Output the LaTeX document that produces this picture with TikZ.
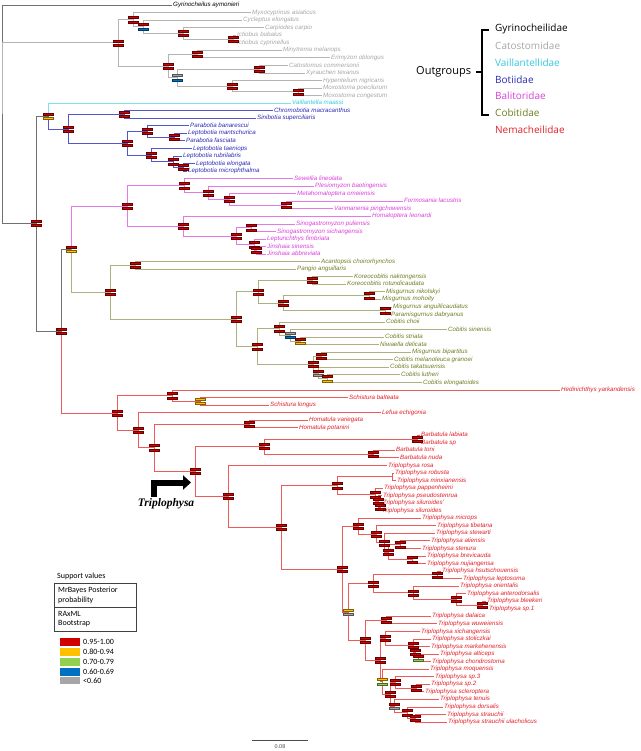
\documentclass[tikz,border=0pt]{standalone}
\usepackage{fontspec}
\setmainfont{Liberation Sans}
\newfontfamily\legfont{Open Sans}
\newfontfamily\calfont{Carlito}
\newfontfamily\serfont{Liberation Serif}
\usetikzlibrary{arrows.meta}

\definecolor{rootl}{HTML}{707070}
\definecolor{catl}{HTML}{B4B4B4}
\definecolor{catt}{HTML}{A6A6A6}
\definecolor{vaill}{HTML}{7FE3EC}
\definecolor{vailt}{HTML}{33C6DF}
\definecolor{botl}{HTML}{5555CC}
\definecolor{bott}{HTML}{2A2AB8}
\definecolor{ball}{HTML}{E57AE5}
\definecolor{balt}{HTML}{D940D9}
\definecolor{cobl}{HTML}{AFAF80}
\definecolor{cobt}{HTML}{6F7D22}
\definecolor{neml}{HTML}{EE5A5A}
\definecolor{nemt}{HTML}{E0202A}
\definecolor{rd}{HTML}{D00000}
\definecolor{yl}{HTML}{FFC000}
\definecolor{gn}{HTML}{92D050}
\definecolor{bl}{HTML}{0070C0}
\definecolor{gy}{HTML}{A6A6A6}

\newcommand{\lfont}{\fontsize{6.2}{7}\selectfont\itshape}
\newcommand{\bars}[3]{%
  \filldraw [fill=#2, draw=#2!50!black, line width=0.35pt] ([shift={(-5pt,3.1pt)}]#1) rectangle ([shift={(5pt,1.1pt)}]#1);
  \filldraw [fill=#3, draw=#3!50!black, line width=0.35pt] ([shift={(-5pt,-1.1pt)}]#1) rectangle ([shift={(5pt,-3.1pt)}]#1);}

\tikzstyle{leaf} = [anchor=west, inner sep=1pt, font=\lfont, text height=4.6pt, text depth=1.3pt]
\tikzstyle{kleaf} = [leaf, text=black]
\tikzstyle{gleaf} = [leaf, text=catt]
\tikzstyle{cleaf} = [leaf, text=vailt]
\tikzstyle{bleaf} = [leaf, text=bott]
\tikzstyle{pleaf} = [leaf, text=balt]
\tikzstyle{oleaf} = [leaf, text=cobt]
\tikzstyle{rleaf} = [leaf, text=nemt]
\tikzstyle{rootline} = [draw=rootl, line width=0.75pt]
\tikzstyle{catline} = [draw=catl, line width=0.75pt]
\tikzstyle{vailline} = [draw=vaill, line width=0.75pt]
\tikzstyle{botline} = [draw=botl, line width=0.75pt]
\tikzstyle{balline} = [draw=ball, line width=0.75pt]
\tikzstyle{cobline} = [draw=cobl, line width=0.75pt]
\tikzstyle{nemline} = [draw=neml, line width=0.75pt]
\tikzstyle{famtext} = [anchor=west, inner sep=0pt, font=\legfont\fontsize{10}{12}\selectfont]
\tikzstyle{caltext} = [anchor=west, inner sep=0pt, font=\calfont\fontsize{8}{9.6}\selectfont]

\begin{document}
\begin{tikzpicture}[x=1pt, y=-1pt]
\useasboundingbox (0,0) rectangle (640,751);

% leaves, outgroups
\node [kleaf] (gyr) at (172, 5) {Gyrinocheilus aymonieri};
\node [gleaf] (myx) at (251, 12.5) {Myxocyprinus asiaticus};
\node [gleaf] (cyc) at (242, 20.1) {Cycleptus elongatus};
\node [gleaf] (car) at (264, 27.6) {Carpiodes carpio};
\node [gleaf] (ibu) at (236, 35.2) {Ictiobus bubalus};
\node [gleaf] (icy) at (236, 42.7) {Ictiobus cyprinellus};
\node [gleaf] (min) at (282, 50.3) {Minytrema melanops};
\node [gleaf] (eri) at (330, 57.8) {Erimyzon oblongus};
\node [gleaf] (cat) at (288, 65.4) {Catostomus commersonii};
\node [gleaf] (xyr) at (305, 72.9) {Xyrauchen texanus};
\node [gleaf] (hyp) at (322, 80.5) {Hypentelium nigricans};
\node [gleaf] (mpo) at (322, 88.0) {Moxostoma poecilurum};
\node [gleaf] (mco) at (322, 95.6) {Moxostoma congestum};
\node [cleaf] (vai) at (291, 103.1) {Vaillantella maassi};
\node [bleaf] (chr) at (273, 110.7) {Chromobotia macracanthus};
\node [bleaf] (sin) at (256, 118.2) {Sinibotia superciliaris};
\node [bleaf] (pban) at (189, 125.8) {Parabotia banarescui};
\node [bleaf] (lman) at (187, 133.3) {Leptobotia mantschurica};
\node [bleaf] (pfas) at (185, 140.8) {Parabotia fasciata};
\node [bleaf] (ltae) at (192, 148.4) {Leptobotia taeniops};
\node [bleaf] (lrub) at (182, 155.9) {Leptobotia rubrilabris};
\node [bleaf] (lelo) at (195, 163.5) {Leptobotia elongata};
\node [bleaf] (lmic) at (187, 171.0) {Leptobotia microphthalma};
\node [pleaf] (sew) at (293, 178.6) {Sewellia lineolata};
\node [pleaf] (ple) at (314, 186.1) {Plesiomyzon baotingensis};
\node [pleaf] (met) at (296, 193.7) {Metahomaloptera omeiensis};
\node [pleaf] (for) at (403, 201.2) {Formosania lacustris};
\node [pleaf] (van) at (333, 208.8) {Vanmanenia pingchowensis};
\node [pleaf] (hom) at (371, 216.3) {Homaloptera leonardi};
\node [pleaf] (spu) at (295, 223.9) {Sinogastromyzon puliensis};
\node [pleaf] (ssi) at (276, 231.4) {Sinogastromyzon sichangensis};
\node [pleaf] (lfi) at (266, 239.0) {Lepturichthys fimbriata};
\node [pleaf] (jsi) at (266, 246.5) {Jinshaia sinensis};
\node [pleaf] (jab) at (266, 254.1) {Jinshaia abbreviata};
\node [oleaf] (aca) at (320, 261.6) {Acantopsis choirorhynchos};
\node [oleaf] (pan) at (296, 269.1) {Pangio anguillaris};
\node [oleaf] (kna) at (353, 276.7) {Koreocobitis naktongensis};
\node [oleaf] (kro) at (346, 284.2) {Koreocobitis rotundicaudata};
\node [oleaf] (mni) at (385, 291.8) {Misgurnus nikolskyi};
\node [oleaf] (mmo) at (381, 299.3) {Misgurnus mohoity};
\node [oleaf] (man) at (392, 306.9) {Misgurnus anguillicaudatus};
\node [oleaf] (pda) at (390, 314.4) {Paramisgurnus dabryanus};
\node [oleaf] (cch) at (385, 322.0) {Cobitis choii};
\node [oleaf] (csi) at (447, 329.5) {Cobitis sinensis};
\node [oleaf] (cst) at (384, 337.1) {Cobitis striata};
\node [oleaf] (nde) at (379, 344.6) {Niwaella delicata};
\node [oleaf] (mbi) at (411, 352.2) {Misgurnus bipartitus};
\node [oleaf] (cme) at (393, 359.7) {Cobitis melanoleuca granoei};
\node [oleaf] (cta) at (389, 367.3) {Cobitis takatsuensis};
\node [oleaf] (clu) at (400, 374.8) {Cobitis lutheri};
\node [oleaf] (cel) at (422, 382.4) {Cobitis elongatoides};

% leaves, Nemacheilidae
\node [rleaf] (hed) at (560, 389.9) {Hedinichthys yarkandensis};
\node [rleaf] (sba) at (348, 397.4) {Schistura balteata};
\node [rleaf] (slo) at (269, 405.0) {Schistura longus};
\node [rleaf] (lef) at (381, 412.5) {Lefua echigonia};
\node [rleaf] (hva) at (308, 420.1) {Homatula variegata};
\node [rleaf] (hpo) at (298, 427.6) {Homatula potanini};
\node [rleaf] (bla) at (420, 435.2) {Barbatula labiata};
\node [rleaf] (bsp) at (420, 442.7) {Barbatula sp};
\node [rleaf] (bto) at (395, 450.3) {Barbatula toni};
\node [rleaf] (bnu) at (399, 457.8) {Barbatula nuda};
\node [rleaf] (tro) at (387, 465.4) {Triplophysa rosa};
\node [rleaf] (trb) at (394, 472.9) {Triplophysa robusta};
\node [rleaf] (tmi) at (396, 480.5) {Triplophysa minxianensis};
\node [rleaf] (tpa) at (383, 488.0) {Triplophysa pappenheimi};
\node [rleaf] (tps) at (382, 495.6) {Triplophysa pseudostenrua};
\node [rleaf] (tsl1) at (382, 503.1) {Triplophysa siluroides'};
\node [rleaf] (tsl2) at (381, 510.6) {Triplophysa siluroides};
\node [rleaf] (tmc) at (421, 518.2) {Triplophysa microps};
\node [rleaf] (ttb) at (436, 525.7) {Triplophysa tibetana};
\node [rleaf] (tst) at (435, 533.3) {Triplophysa stewarti};
\node [rleaf] (tal) at (430, 540.8) {Triplophysa aliensis};
\node [rleaf] (tsn) at (421, 548.4) {Triplophysa stenura};
\node [rleaf] (tbr) at (426, 555.9) {Triplophysa brevicauda};
\node [rleaf] (tnu) at (426, 563.5) {Triplophysa nujiangensa};
\node [rleaf] (ths) at (441, 571.0) {Triplophysa hsutschouensis};
\node [rleaf] (tle) at (462, 578.6) {Triplophysa leptosoma};
\node [rleaf] (tor) at (459, 586.1) {Triplophysa orientalis};
\node [rleaf] (tan) at (466, 593.7) {Triplophysa anterodorsalis};
\node [rleaf] (tbl) at (486, 601.2) {Triplophysa bleekeri};
\node [rleaf] (ts1) at (488, 608.8) {Triplophysa sp.1};
\node [rleaf] (tda) at (431, 616.3) {Triplophysa dalaica};
\node [rleaf] (twu) at (437, 623.8) {Triplophysa wuweiensis};
\node [rleaf] (txi) at (420, 631.4) {Triplophysa xichangensis};
\node [rleaf] (tso) at (431, 638.9) {Triplophysa stoliczkai};
\node [rleaf] (tma) at (430, 646.5) {Triplophysa markehenensis};
\node [rleaf] (tat) at (439, 654.0) {Triplophysa alticeps};
\node [rleaf] (tch) at (431, 661.6) {Triplophysa chondrostoma};
\node [rleaf] (tmo) at (429, 669.1) {Triplophysa moquensis};
\node [rleaf] (ts3) at (434, 676.7) {Triplophysa sp.3};
\node [rleaf] (ts2) at (430, 684.2) {Triplophysa sp.2};
\node [rleaf] (tsc) at (424, 691.8) {Triplophysa scleroptera};
\node [rleaf] (tte) at (439, 699.3) {Triplophysa tenuis};
\node [rleaf] (tdo) at (443, 706.9) {Triplophysa dorsalis};
\node [rleaf] (tsr) at (446, 714.4) {Triplophysa strauchii};
\node [rleaf] (tsu) at (447, 722.0) {Triplophysa strauchii ulacholicus};

% inner nodes
\coordinate (root) at (2, 114);
\coordinate (c0) at (118, 42.8);
\coordinate (c1) at (133, 19.6);
\coordinate (c3) at (143, 26.7);
\coordinate (c4) at (183, 33.3);
\coordinate (c5) at (233, 39);
\coordinate (c2) at (168, 65.9);
\coordinate (c6) at (197, 54);
\coordinate (c7) at (177, 77.7);
\coordinate (c8) at (259, 69.2);
\coordinate (c9) at (232, 86.2);
\coordinate (c10) at (298, 91.8);
\coordinate (n1) at (36, 223.5);
\coordinate (v) at (48, 116);
\coordinate (b0) at (68, 128.9);
\coordinate (b1) at (124, 114.5);
\coordinate (b2) at (127, 143.3);
\coordinate (b3) at (147, 131.5);
\coordinate (b5) at (174, 137.1);
\coordinate (b4) at (151, 155);
\coordinate (b6) at (173, 161.6);
\coordinate (b7) at (183, 167.3);
\coordinate (n2) at (61, 331);
\coordinate (x) at (71, 249.2);
\coordinate (ba0) at (127, 206);
\coordinate (ba1) at (184, 185.7);
\coordinate (ba3) at (208, 192.8);
\coordinate (ba4) at (229, 199.4);
\coordinate (ba5) at (286, 205);
\coordinate (ba2) at (183, 226.3);
\coordinate (ba6) at (236, 236.2);
\coordinate (ba7) at (251, 227.7);
\coordinate (ba8) at (254, 244.7);
\coordinate (ba9) at (256, 250.3);
\coordinate (cobr) at (110, 292.3);
\coordinate (cob1) at (135, 265.4);
\coordinate (cob2) at (236, 319.2);
\coordinate (cob3) at (258, 291.8);
\coordinate (cob5) at (312, 280.5);
\coordinate (cob6) at (283, 303.1);
\coordinate (cob7) at (369, 295.6);
\coordinate (cob8) at (385, 310.7);
\coordinate (cob4) at (257, 346.6);
\coordinate (cob9) at (279, 328.6);
\coordinate (cob11) at (290, 335.2);
\coordinate (cob12) at (300, 340.9);
\coordinate (cob10) at (313, 364.5);
\coordinate (cob13) at (321, 356);
\coordinate (cob14) at (318, 373);
\coordinate (cob15) at (327, 378.6);
\coordinate (na) at (117, 412.9);
\coordinate (nb) at (172, 395.6);
\coordinate (nc) at (200, 401.2);
\coordinate (nd) at (138, 430.1);
\coordinate (ne) at (154, 447.7);
\coordinate (nf) at (249, 423.9);
\coordinate (ng) at (195, 471.5);
\coordinate (nh) at (264, 446.5);
\coordinate (nj) at (417, 439);
\coordinate (nk) at (373, 454.1);
\coordinate (ni) at (228, 496.4);
\coordinate (nm) at (281, 527.4);
\coordinate (tr1) at (337, 485.7);
\coordinate (tr3) at (392, 476.7);
\coordinate (tr4) at (375, 494.6);
\coordinate (tr4b) at (378, 501.2);
\coordinate (tr5) at (380, 506.9);
\coordinate (tr2) at (342, 569.1);
\coordinate (tr6) at (358, 526.3);
\coordinate (tr8) at (376, 534.3);
\coordinate (tr9) at (384, 542.8);
\coordinate (tr10) at (388, 552.2);
\coordinate (tr11) at (400, 544.6);
\coordinate (tr12) at (412, 559.7);
\coordinate (tr7) at (348, 612);
\coordinate (tr13) at (373, 583.8);
\coordinate (tr15) at (437, 574.8);
\coordinate (tr16) at (413, 592.8);
\coordinate (tr17) at (456, 599.4);
\coordinate (tr18) at (482, 605);
\coordinate (tr14) at (365, 640.1);
\coordinate (tr19) at (386, 620.1);
\coordinate (tr20) at (380, 660.1);
\coordinate (tr21) at (385, 638.5);
\coordinate (tr23) at (413, 645.5);
\coordinate (tr24) at (415, 652.2);
\coordinate (tr25) at (418, 657.8);
\coordinate (tr22) at (382, 681.7);
\coordinate (tr26) at (390, 694.2);
\coordinate (tr27) at (395, 682.4);
\coordinate (tr29) at (416, 688);
\coordinate (tr28) at (394, 706);
\coordinate (tr30) at (407, 712.6);
\coordinate (tr31) at (415, 718.2);

% branches
\path [rootline] (root) |- (gyr) (root) |- (n1) (n1) |- (v) (n1) |- (n2) (n2) |- (x);
\path [catline] (root) |- (c0);
\path [catline] (c0) |- (c1) (c0) |- (c2);
\path [catline] (c1) |- (myx) (c1) |- (c3);
\path [catline] (c3) |- (cyc) (c3) |- (c4);
\path [catline] (c4) |- (car) (c4) |- (c5);
\path [catline] (c5) |- (ibu) (c5) |- (icy);
\path [catline] (c2) |- (c6) (c2) |- (c7);
\path [catline] (c6) |- (min) (c6) |- (eri);
\path [catline] (c7) |- (c8) (c7) |- (c9);
\path [catline] (c8) |- (cat) (c8) |- (xyr);
\path [catline] (c9) |- (hyp) (c9) |- (c10);
\path [catline] (c10) |- (mpo) (c10) |- (mco);
\path [vailline] (v) |- (vai);
\path [botline] (v) |- (b0);
\path [botline] (b0) |- (b1) (b0) |- (b2);
\path [botline] (b1) |- (chr) (b1) |- (sin);
\path [botline] (b2) |- (b3) (b2) |- (b4);
\path [botline] (b3) |- (pban) (b3) |- (b5);
\path [botline] (b5) |- (lman) (b5) |- (pfas);
\path [botline] (b4) |- (ltae) (b4) |- (b6);
\path [botline] (b6) |- (lrub) (b6) |- (b7);
\path [botline] (b7) |- (lelo) (b7) |- (lmic);
\path [balline] (x) |- (ba0);
\path [balline] (ba0) |- (ba1) (ba0) |- (ba2);
\path [balline] (ba1) |- (sew) (ba1) |- (ba3);
\path [balline] (ba3) |- (ple) (ba3) |- (ba4);
\path [balline] (ba4) |- (met) (ba4) |- (ba5);
\path [balline] (ba5) |- (for) (ba5) |- (van);
\path [balline] (ba2) |- (hom) (ba2) |- (ba6);
\path [balline] (ba6) |- (ba7) (ba6) |- (ba8);
\path [balline] (ba7) |- (spu) (ba7) |- (ssi);
\path [balline] (ba8) |- (lfi) (ba8) |- (ba9);
\path [balline] (ba9) |- (jsi) (ba9) |- (jab);
\path [cobline] (x) |- (cobr);
\path [cobline] (cobr) |- (cob1) (cobr) |- (cob2);
\path [cobline] (cob1) |- (aca) (cob1) |- (pan);
\path [cobline] (cob2) |- (cob3) (cob2) |- (cob4);
\path [cobline] (cob3) |- (cob5) (cob3) |- (cob6);
\path [cobline] (cob5) |- (kna) (cob5) |- (kro);
\path [cobline] (cob6) |- (cob7) (cob6) |- (cob8);
\path [cobline] (cob7) |- (mni) (cob7) |- (mmo);
\path [cobline] (cob8) |- (man) (cob8) |- (pda);
\path [cobline] (cob4) |- (cob9) (cob4) |- (cob10);
\path [cobline] (cob9) |- (cch) (cob9) |- (cob11);
\path [cobline] (cob11) |- (csi) (cob11) |- (cob12);
\path [cobline] (cob12) |- (cst) (cob12) |- (nde);
\path [cobline] (cob10) |- (cob13) (cob10) |- (cob14);
\path [cobline] (cob13) |- (mbi) (cob13) |- (cme);
\path [cobline] (cob14) |- (cta) (cob14) |- (cob15);
\path [cobline] (cob15) |- (clu) (cob15) |- (cel);
\path [nemline] (n2) |- (na);
\path [nemline] (na) |- (nb) (na) |- (nd);
\path [nemline] (nb) |- (hed) (nb) |- (nc);
\path [nemline] (nc) |- (sba) (nc) |- (slo);
\path [nemline] (nd) |- (lef) (nd) |- (ne);
\path [nemline] (ne) |- (nf) (ne) |- (ng);
\path [nemline] (nf) |- (hva) (nf) |- (hpo);
\path [nemline] (ng) |- (nh) (ng) |- (ni);
\path [nemline] (nh) |- (nj) (nh) |- (nk);
\path [nemline] (nj) |- (bla) (nj) |- (bsp);
\path [nemline] (nk) |- (bto) (nk) |- (bnu);
\path [nemline] (ni) |- (tro) (ni) |- (nm);
\path [nemline] (nm) |- (tr1) (nm) |- (tr2);
\path [nemline] (tr1) |- (tr3) (tr1) |- (tr4);
\path [nemline] (tr3) |- (trb) (tr3) |- (tmi);
\path [nemline] (tr4) |- (tpa) (tr4) |- (tr4b);
\path [nemline] (tr4b) |- (tps) (tr4b) |- (tr5);
\path [nemline] (tr5) |- (tsl1) (tr5) |- (tsl2);
\path [nemline] (tr2) |- (tr6) (tr2) |- (tr7);
\path [nemline] (tr6) |- (tmc) (tr6) |- (tr8);
\path [nemline] (tr8) |- (ttb) (tr8) |- (tr9);
\path [nemline] (tr9) |- (tst) (tr9) |- (tr10);
\path [nemline] (tr10) |- (tr11) (tr10) |- (tr12);
\path [nemline] (tr11) |- (tal) (tr11) |- (tsn);
\path [nemline] (tr12) |- (tbr) (tr12) |- (tnu);
\path [nemline] (tr7) |- (tr13) (tr7) |- (tr14);
\path [nemline] (tr13) |- (tr15) (tr13) |- (tr16);
\path [nemline] (tr15) |- (ths) (tr15) |- (tle);
\path [nemline] (tr16) |- (tor) (tr16) |- (tr17);
\path [nemline] (tr17) |- (tan) (tr17) |- (tr18);
\path [nemline] (tr18) |- (tbl) (tr18) |- (ts1);
\path [nemline] (tr14) |- (tr19) (tr14) |- (tr20);
\path [nemline] (tr19) |- (tda) (tr19) |- (twu);
\path [nemline] (tr20) |- (tr21) (tr20) |- (tr22);
\path [nemline] (tr21) |- (txi) (tr21) |- (tr23);
\path [nemline] (tr23) |- (tso) (tr23) |- (tr24);
\path [nemline] (tr24) |- (tma) (tr24) |- (tr25);
\path [nemline] (tr25) |- (tat) (tr25) |- (tch);
\path [nemline] (tr22) |- (tmo) (tr22) |- (tr26);
\path [nemline] (tr26) |- (tr27) (tr26) |- (tr28);
\path [nemline] (tr27) |- (ts3) (tr27) |- (tr29);
\path [nemline] (tr29) |- (ts2) (tr29) |- (tsc);
\path [nemline] (tr28) |- (tte) (tr28) |- (tr30);
\path [nemline] (tr30) |- (tdo) (tr30) |- (tr31);
\path [nemline] (tr31) |- (tsr) (tr31) |- (tsu);

% support bars (top MrBayes, bottom RAxML)
\foreach \n in {c0,c1,c4,c5,c2,c6,c8,c9,c10,n1,b0,b1,b2,b3,b5,b4,b6,b7,
  ba0,ba1,ba3,ba4,ba5,ba2,ba6,ba7,ba8,ba9,cobr,cob1,cob2,cob3,cob5,cob6,cob7,cob8,
  cob4,cob9,cob10,cob13,na,nb,nd,ne,nf,ng,nh,nj,nk,ni,nm,tr1,tr4,tr4b,tr5,
  tr2,tr6,tr8,tr9,tr10,tr11,tr12,tr13,tr15,tr16,tr17,tr18,tr14,tr19,tr20,tr21,
  tr23,tr24,tr26,tr27,tr29,tr30,tr31,n2}
  {\bars{\n}{rd}{rd}}
\bars{c3}{rd}{bl}
\bars{c7}{gy}{bl}
\bars{v}{rd}{yl}
\bars{x}{rd}{yl}
\bars{cob11}{gy}{bl}
\bars{cob12}{rd}{yl}
\bars{cob14}{rd}{gy}
\bars{cob15}{rd}{yl}
\bars{nc}{yl}{yl}
\bars{tr7}{yl}{gy}
\bars{tr25}{rd}{gn}
\bars{tr22}{yl}{gn}
\bars{tr28}{rd}{gy}

% Triplophysa arrow
\coordinate (arrs) at (154, 497);
\coordinate (arre) at (191, 482.5);
\draw [line width=6pt, -{Triangle[length=8pt, width=14pt]}] (arrs) |- (arre);
\node [font=\serfont\bfseries\itshape\fontsize{11.5}{13}\selectfont, inner sep=0pt] (tlab) at (166, 503.5) {Triplophysa};

% family key
\node [famtext, text=black] (fgyr) at (495, 29) {Gyrinocheilidae};
\node [famtext, text=catt] (fcat) at (495, 46) {Catostomidae};
\node [famtext, text=vailt] (fvai) at (495, 63) {Vaillantellidae};
\node [famtext, text=bott] (fbot) at (495, 79.5) {Botiidae};
\node [famtext, text=balt] (fbal) at (495, 96) {Balitoridae};
\node [famtext, text=cobt] (fcob) at (495, 113) {Cobitidae};
\node [famtext, text=nemt] (fnem) at (495, 129.5) {Nemacheilidae};
\node [anchor=west, inner sep=0pt, font=\legfont\fontsize{11}{13}\selectfont] (outg) at (416, 72) {Outgroups};
\coordinate (brt) at (489, 30);
\coordinate (brb) at (489, 115);
\coordinate (brm) at (476, 72);
\draw [line width=1.2pt] (brt) -- ++(-7,0) |- (brb);
\draw [line width=1.2pt] (brm) -- ++(6,0);

% support key
\node [caltext] (supv) at (57, 576) {Support values};
\draw [line width=0.6pt, draw=black!75] (54, 583) rectangle (136, 631);
\draw [line width=0.6pt, draw=black!75] (54, 607) -- (136, 607);
\node [caltext] (mrb) at (58, 590.5) {MrBayes Posterior};
\node [caltext] (prob) at (58, 600.5) {probability};
\node [caltext] (rax) at (58, 614) {RAxML};
\node [caltext] (boot) at (58, 624) {Bootstrap};
\fill [rd] (60, 638) rectangle (80, 646);
\fill [yl] (60, 648) rectangle (80, 656);
\fill [gn] (60, 657.5) rectangle (80, 665.5);
\fill [bl] (60, 667.5) rectangle (80, 675.5);
\fill [gy] (60, 677) rectangle (80, 684);
\node [caltext] (k1) at (83, 642) {0.95-1.00};
\node [caltext] (k2) at (83, 652) {0.80-0.94};
\node [caltext] (k3) at (83, 661.5) {0.70-0.79};
\node [caltext] (k4) at (83, 671.5) {0.60-0.69};
\node [caltext] (k5) at (83, 680.5) {<0.60};

% scale bar
\coordinate (sbl) at (252, 740);
\coordinate (sbr) at (308, 740);
\draw [line width=0.6pt, draw=black!70] (sbl) -- (sbr);
\node [font=\fontsize{5.5}{6}\selectfont, text=black!70] (sbt) at (280, 747) {0.08};
\end{tikzpicture}
\end{document}
